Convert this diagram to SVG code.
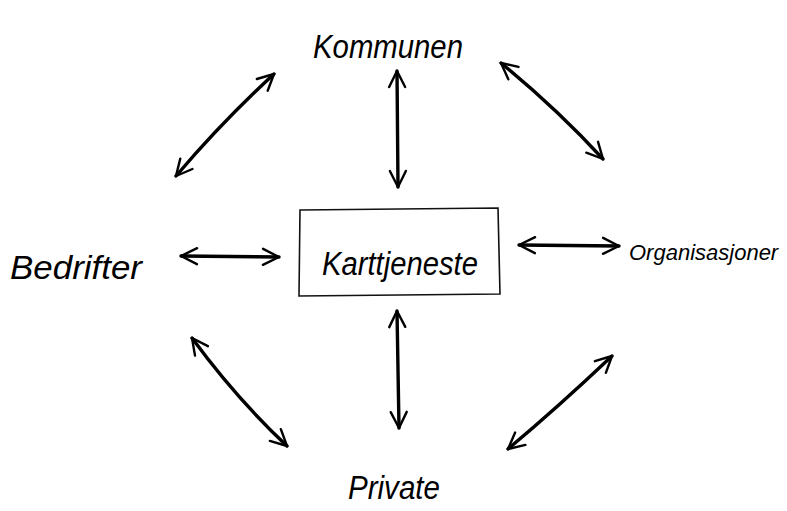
<svg xmlns="http://www.w3.org/2000/svg" width="787" height="511" viewBox="0 0 787 511">
<defs>
<marker id="ah" viewBox="0 0 20 20" refX="18" refY="10" markerWidth="20" markerHeight="20" markerUnits="userSpaceOnUse" orient="auto-start-reverse">
<path d="M2,2 L18,10 L2,18" fill="none" stroke="#000" stroke-width="2.4" stroke-linecap="round" stroke-linejoin="round"/>
</marker>
</defs>
<style>
.lbl{font-family:"Liberation Sans",Arial,sans-serif;font-size:34px;fill:#000;font-style:italic}
.sm{font-size:22px}
.ar{fill:none;stroke:#000;stroke-width:3.4;stroke-linecap:round;marker-start:url(#ah);marker-end:url(#ah)}
.box{fill:none;stroke:#111;stroke-width:1.6}
</style>
<rect width="787" height="511" fill="#fff"/>
<g id="node-karttjeneste">
<path class="box" d="M300,210 L498,208 L500,294 L299,296 Z"/>
<text class="lbl" x="400" y="275" text-anchor="middle" textLength="156" lengthAdjust="spacingAndGlyphs">Karttjeneste</text>
</g>
<g id="node-kommunen">
<text class="lbl" x="388" y="58" text-anchor="middle" textLength="150" lengthAdjust="spacingAndGlyphs">Kommunen</text>
</g>
<g id="node-bedrifter">
<text class="lbl" x="76" y="279" text-anchor="middle" textLength="132" lengthAdjust="spacingAndGlyphs">Bedrifter</text>
</g>
<g id="node-organisasjoner">
<text class="lbl sm" x="629" y="260">Organisasjoner</text>
</g>
<g id="node-private">
<text class="lbl" x="394" y="499" text-anchor="middle" textLength="92" lengthAdjust="spacingAndGlyphs">Private</text>
</g>
<g id="connectors">
<path class="ar" d="M176,176 Q222,122 274,74"/>
<path class="ar" d="M501,63 Q556,108 603,159"/>
<path class="ar" d="M397,71 L398,187"/>
<path class="ar" d="M397,311 L399,428"/>
<path class="ar" d="M181,256 L279,257"/>
<path class="ar" d="M519,245 L619,246"/>
<path class="ar" d="M192,338 Q236,398 287,446"/>
<path class="ar" d="M612,356 Q557,408 508,449"/>
</g>
</svg>
